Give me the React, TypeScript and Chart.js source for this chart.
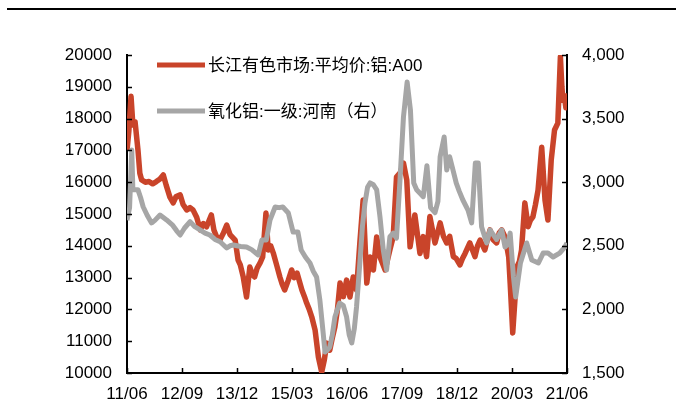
import React, { useEffect, useRef } from "react";
import { Chart, registerables } from "chart.js";

Chart.register(...registerables);

// Month offsets counted from 2011-06 (0 = 2011-06, 120 = 2021-06)
const aluMonths = [
  0, 0.5, 1.1, 1.6, 2.2, 3, 3.5, 4, 5, 6,
  7, 8, 9, 9.9, 10.7, 11.7, 12.6, 13.4, 14.5, 15.3,
  16.3, 17.2, 18, 19, 20, 20.8, 21.7, 23, 23.7, 24.4,
  25.4, 26.3, 27.2, 28.1, 29.5, 30.3, 30.9, 31.7, 32.6, 33.5,
  34.2, 34.8, 35.5, 36.3, 37, 37.9, 38.5, 39.2, 39.9, 40.8,
  41.7, 42.3, 43, 44, 44.9, 45.6, 46.4, 47.7, 48.4, 49,
  49.7, 50.4, 51.3, 52.2, 53.1, 53.8, 54.5, 55.3, 56, 56.7,
  57.4, 58.1, 59, 59.9, 60.8, 61.7, 62.6, 63.5, 64.4, 65.4,
  66.3, 67.2, 68.1, 69, 70.4, 71.7, 72.6, 73.5, 74.5, 75.4,
  76.3, 77.2, 78.5, 79.9, 80.8, 81.7, 82.6, 84, 85.4, 86.3,
  87.2, 88, 89, 89.8, 90.8, 91.5, 92.2, 93.5, 94.9, 95.6,
  96.3, 97.6, 98.3, 99, 99.8, 100.8, 101.5, 102.2, 103, 103.6,
  104.1, 104.5, 105.2, 105.8, 106.3, 107, 107.6, 108.5, 109.4, 110,
  110.7, 111.4, 112.1, 113.1, 114, 114.8, 115.7, 116.6, 117.5, 118.2,
  118.6, 118.9, 119.3, 119.7, 120,
];
// 长江有色市场:平均价:铝:A00 (left axis)
const aluPrice = [
  17000, 17600, 18700, 17800, 17900, 17000, 16280, 16070, 16000, 16020,
  15950, 16020, 16100, 16230, 15900, 15530, 15350, 15550, 15600, 15300,
  15130, 15200, 15130, 14900, 14500, 14700, 14600, 14970, 14500, 14290,
  14200, 14400, 14650, 14350, 14180, 13550, 13400, 13020, 12390, 13330,
  13100, 13020, 13300, 13460, 13650, 15030, 13870, 14000, 13770, 13400,
  13020, 12800, 12610, 12920, 13240, 13000, 13140, 12610, 12400, 12200,
  12000, 11760, 11350, 10500, 10030, 10400, 10940, 10720, 11100, 11450,
  12000, 12830, 12400, 12920, 12390, 13020, 12610, 14090, 15440, 12830,
  13650, 13240, 14280, 13650, 13240, 13870, 14280, 16160, 16300, 16600,
  16070, 13970, 14970, 13760, 14290, 13660, 14920, 14090, 14720, 14300,
  14090, 14300, 13660, 13600, 13400, 13600, 13760, 14090, 13660, 14000,
  14180, 13870, 14200, 14500, 14200, 14090, 14400, 14500, 14300, 13970,
  13650, 12830, 11260, 12300, 13330, 13500, 13870, 15350, 14600, 14800,
  14910, 15300, 15750, 17100, 15440, 14810, 16700, 17640, 17860, 19940,
  19000, 18580, 18700, 18340, 18800,
];

const aluminaMonths = [
  0, 0.7, 1.3, 1.6, 3, 3.7, 4.4, 5.5, 6.7, 7.6,
  9, 10, 10.8, 12.5, 13.5, 14.5, 15.7, 17.2, 18.5, 20,
  21.3, 22.6, 24, 25.4, 27.2, 28.1, 29, 31, 32.6, 34,
  35.8, 36.8, 38, 39, 40.4, 41.5, 42.5, 44, 45.3, 46.6,
  47.5, 48.7, 49.9, 50.8, 51.7, 52.6, 53.5, 54, 54.6, 55.3,
  56, 56.7, 57.4, 58, 59, 59.9, 60.6, 61.3, 62, 62.6,
  63.5, 64.2, 64.9, 65.6, 66.3, 67.2, 68.1, 69, 69.9, 70.8,
  71.7, 72.6, 73.5, 74, 74.5, 75.4, 76.4, 77.3, 78.2, 79,
  80.8, 81.8, 82.8, 84, 84.8, 85.4, 86.5, 87.2, 88, 89.8,
  90.6, 91.6, 93, 94, 95, 95.8, 96.7, 98.1, 99, 100.8,
  102.2, 103.1, 103.8, 104.5, 105.4, 106, 107.3, 109, 110.4, 112.2,
  113.5, 114.8, 116.2, 118, 119.4, 120,
];
// 氧化铝:一级:河南 (right axis)
const aluminaPrice = [
  2700, 2800, 3253, 2940, 2940, 2880, 2807, 2740, 2680, 2700,
  2742, 2720, 2703, 2660, 2620, 2585, 2640, 2690, 2650, 2624,
  2600, 2585, 2550, 2532, 2483, 2500, 2506, 2495, 2490, 2470,
  2428, 2546, 2546, 2703, 2805, 2800, 2805, 2758, 2608, 2608,
  2467, 2410, 2365, 2300, 2255, 2074, 1814, 1665, 1680, 1704,
  1800, 1940, 2000, 2050, 2030, 1940, 1800, 1736, 1850, 2019,
  2365, 2650, 2836, 2960, 2994, 2980, 2939, 2726, 2467, 2310,
  2571, 2600, 2560, 2800, 3041, 3513, 3788, 3568, 2994, 2940,
  2886, 3130, 2800, 2760, 2850, 3200, 3355, 3096, 3200, 2992,
  2930, 2860, 2781, 2680, 3150, 3150, 2650, 2522, 2624, 2550,
  2624, 2490, 2510, 2600, 2255, 2097, 2365, 2522, 2388, 2365,
  2443, 2443, 2412, 2443, 2490, 2522,
];

const xTickLabels = ["11/06", "12/09", "13/12", "15/03", "16/06", "17/09", "18/12", "20/03", "21/06"];
const seriesLabels = ["长江有色市场:平均价:铝:A00", "氧化铝:一级:河南（右）"];

const RED = "#C9442A";
const GRAY = "#A6A6A6";
const FONT = "'Liberation Sans', Arial, 'Noto Sans CJK SC', sans-serif";

const innerTicks = {
  id: "innerTicks",
  afterDatasetsDraw(chart: any) {
    const ctx = chart.ctx;
    const { left, right, bottom } = chart.chartArea;
    ctx.save();
    ctx.strokeStyle = "#000";
    ctx.lineWidth = 1.5;
    const xs = chart.scales.x;
    xs.ticks.forEach((t: any) => {
      const px = Math.round(xs.getPixelForValue(t.value)) + 0.5;
      ctx.beginPath();
      ctx.moveTo(px, bottom);
      ctx.lineTo(px, bottom - 5);
      ctx.stroke();
    });
    const yl = chart.scales.y;
    yl.ticks.forEach((t: any) => {
      const py = Math.round(yl.getPixelForValue(t.value)) + 0.5;
      ctx.beginPath();
      ctx.moveTo(left, py);
      ctx.lineTo(left + 5, py);
      ctx.stroke();
    });
    const yr = chart.scales.y1;
    yr.ticks.forEach((t: any) => {
      const py = Math.round(yr.getPixelForValue(t.value)) + 0.5;
      ctx.beginPath();
      ctx.moveTo(right, py);
      ctx.lineTo(right - 5, py);
      ctx.stroke();
    });
    ctx.restore();
  },
};

const insideLegend = {
  id: "insideLegend",
  afterDraw(chart: any) {
    const ctx = chart.ctx;
    const { left, top } = chart.chartArea;
    ctx.save();
    chart.data.datasets.forEach((ds: any, i: number) => {
      const y = top + 10 + i * 46;
      const x0 = left + 30;
      ctx.strokeStyle = ds.borderColor;
      ctx.lineWidth = 5;
      ctx.lineCap = "butt";
      ctx.beginPath();
      ctx.moveTo(x0, y);
      ctx.lineTo(x0 + 48, y);
      ctx.stroke();
      ctx.fillStyle = "#000";
      ctx.font = `17px ${FONT}`;
      ctx.textBaseline = "middle";
      ctx.textAlign = "left";
      ctx.fillText(ds.label, x0 + 51, y + 1);
    });
    ctx.restore();
  },
};

export default function App() {
  const ref = useRef<HTMLCanvasElement | null>(null);

  useEffect(() => {
    if (!ref.current) return;
    const chart = new Chart(ref.current, {
      type: "line",
      data: {
        datasets: [
          {
            label: seriesLabels[0],
            data: aluMonths.map((m, i) => ({ x: m, y: aluPrice[i] })),
            borderColor: RED,
            backgroundColor: RED,
            borderWidth: 5.5,
            pointRadius: 0,
            tension: 0,
            yAxisID: "y",
            order: 1,
            borderJoinStyle: "round",
          },
          {
            label: seriesLabels[1],
            data: aluminaMonths.map((m, i) => ({ x: m, y: aluminaPrice[i] })),
            borderColor: GRAY,
            backgroundColor: GRAY,
            borderWidth: 5,
            pointRadius: 0,
            tension: 0,
            yAxisID: "y1",
            order: 0,
            borderJoinStyle: "round",
          },
        ],
      },
      options: {
        responsive: false,
        animation: false,
        devicePixelRatio: 1,
        layout: { padding: { top: 55, left: 0, right: 0, bottom: 0 } },
        plugins: { legend: { display: false }, tooltip: { enabled: false } },
        scales: {
          x: {
            type: "linear",
            min: 0,
            max: 120,
            position: "bottom",
            afterFit: (s: any) => { s.height = 45; },
            afterBuildTicks: (s: any) => {
              s.ticks = xTickLabels.map((_, i) => ({ value: i * 15 }));
            },
            ticks: {
              autoSkip: false,
              maxRotation: 0,
              padding: 11,
              color: "#000",
              font: { size: 17, family: FONT },
              callback: (v: any) => xTickLabels[Math.round(Number(v) / 15)],
            },
            grid: { drawOnChartArea: false, drawTicks: false, color: "#000" },
            border: { display: true, color: "#000", width: 2 },
          },
          y: {
            type: "linear",
            position: "left",
            min: 10000,
            max: 20000,
            afterFit: (s: any) => { s.width = 127; },
            ticks: {
              stepSize: 1000,
              padding: 15,
              color: "#000",
              font: { size: 17, family: FONT },
              callback: (v: any) => String(v),
            },
            grid: { drawOnChartArea: false, drawTicks: false, color: "#000" },
            border: { display: true, color: "#000", width: 2 },
          },
          y1: {
            type: "linear",
            position: "right",
            min: 1500,
            max: 4000,
            afterFit: (s: any) => { s.width = 109; },
            ticks: {
              stepSize: 500,
              padding: 15,
              color: "#000",
              font: { size: 17, family: FONT },
              callback: (v: any) => Number(v).toLocaleString("en-US"),
            },
            grid: { drawOnChartArea: false, drawTicks: false, color: "#000" },
            border: { display: true, color: "#000", width: 2 },
          },
        },
      },
      plugins: [innerTicks, insideLegend],
    } as any);
    return () => chart.destroy();
  }, []);

  return (
    <div style={{ position: "absolute", left: 0, top: 0, width: 676, height: 418, background: "#fff" }}>
      <div style={{ position: "absolute", left: 7, top: 8, width: 669, height: 2, background: "#000" }} />
      <canvas
        ref={ref}
        width={676}
        height={418}
        style={{ position: "absolute", left: 0, top: 0, width: 676, height: 418 }}
      />
    </div>
  );
}
